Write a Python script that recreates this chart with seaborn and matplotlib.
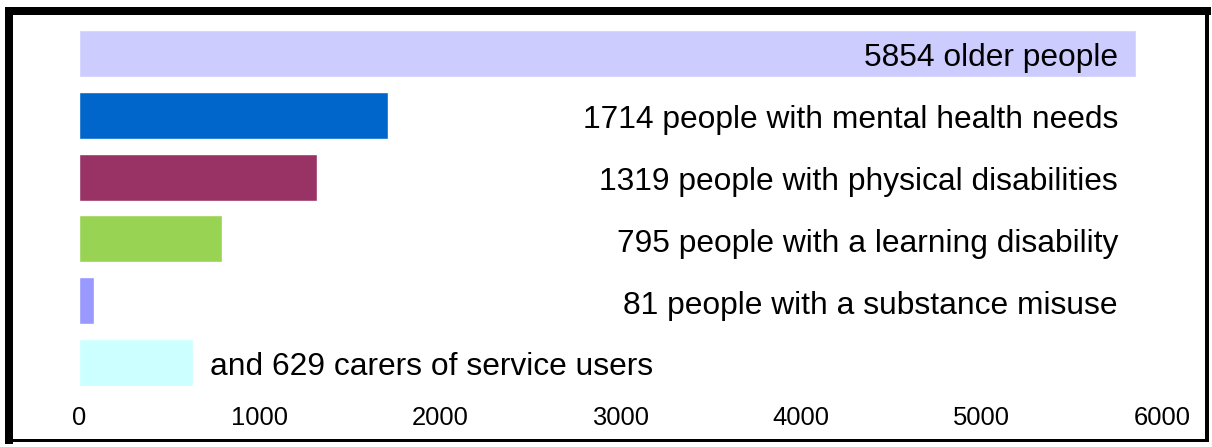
import matplotlib
matplotlib.use("Agg")
import matplotlib.pyplot as plt
from matplotlib.lines import Line2D
import seaborn as sns
import pandas as pd

categories = ["older people", "people with mental health needs", "people with physical disabilities",
              "people with a learning disability", "people with a substance misuse", "carers of service users"]
values = [5854, 1714, 1319, 795, 81, 629]
labels = ["5854 older people", "1714 people with mental health needs", "1319 people with physical disabilities",
          "795 people with a learning disability", "81 people with a substance misuse",
          "and 629 carers of service users"]
colors = ["#CCCCFF", "#0066CC", "#993366", "#99D353", "#9999FF", "#CCFFFF"]
xticks = [0, 1000, 2000, 3000, 4000, 5000, 6000]

sns.set_style("white")
plt.rcParams["font.family"] = ["Liberation Sans", "DejaVu Sans"]
plt.rcParams["text.color"] = "black"
plt.rcParams["xtick.color"] = "black"

df = pd.DataFrame({"category": categories, "value": values})

fig = plt.figure(figsize=(12.12, 4.47), dpi=100)
ax = fig.add_axes([79 / 1212, (447 - 393.4) / 447, (1162 - 79) / 1212, (393.4 - 22.6) / 447])
sns.barplot(data=df, y="category", x="value", hue="category", palette=colors,
            legend=False, orient="h", width=0.76, ax=ax, saturation=1)

ax.set_xlim(0, 6000)
ax.set_xticks(xticks)
ax.set_xticklabels([str(t) for t in xticks], fontsize=18.4, color="black")
ax.set_yticks([])
ax.set_xlabel("")
ax.set_ylabel("")
ax.tick_params(axis="x", length=0, pad=9)
for s in ax.spines.values():
    s.set_visible(False)

for i, lab in enumerate(labels):
    if i < len(labels) - 1:
        ax.text(5756, i + 0.08, lab, ha="right", va="center", fontsize=22.9, color="black")
    else:
        ax.text(726, i + 0.08, lab, ha="left", va="center", fontsize=22.9, color="black")

# Outer frame
def px(x, y):
    return x / 1212, 1 - y / 447

def frame_line(p0, p1, w):
    (x0, y0), (x1, y1) = px(*p0), px(*p1)
    fig.add_artist(Line2D([x0, x1], [y0, y1], transform=fig.transFigure, color="black",
                          lw=w * 72 / 100, solid_capstyle="projecting"))

frame_line((9, 11), (1207, 11), 8)
frame_line((9, 11), (9, 440), 8)
frame_line((1207, 11), (1207, 440), 4)
frame_line((9, 440), (1207, 440), 3)

fig.savefig("out.png", dpi=100)
